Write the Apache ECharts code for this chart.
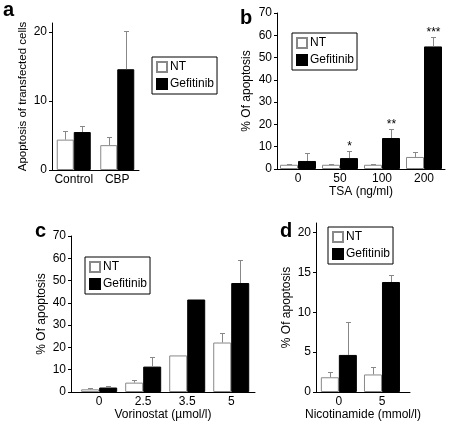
<!DOCTYPE html>
<html>
<head>
<meta charset="utf-8">
<script src="https://cdn.jsdelivr.net/npm/echarts@6/dist/echarts.min.js"></script>
<style>html,body{margin:0;padding:0;background:#fff}#chart{width:452px;height:424px}</style>
</head>
<body>
<div id="chart"></div>
<script>
// Panel a
const aCategories = ['Control', 'CBP'];
const aNT = [4.4, 3.6];
const aNTsd = [1.2, 1.15];
const aGef = [5.5, 14.6];
const aGefSd = [0.9, 5.5];
const aTicks = [0, 10, 20];
// Panel b
const bCategories = ['0', '50', '100', '200'];
const bNT = [1.9, 1.9, 1.9, 5.4];
const bNTsd = [0.4, 0.2, 0.4, 2.2];
const bGef = [3.6, 4.9, 13.9, 55.0];
const bGefSd = [3.6, 3.0, 4.0, 4.3];
const bStars = ['', '*', '**', '***'];
// Panel c
const cCategories = ['0', '2.5', '3.5', '5'];
const cNT = [1.2, 4.2, 16.4, 22.2];
const cNTsd = [0.6, 1.4, 0, 4.1];
const cGef = [2.0, 11.4, 41.5, 48.9];
const cGefSd = [0.6, 4.5, 0, 10.2];
// Panel d
const dCategories = ['0', '5'];
const dNT = [1.85, 2.2];
const dNTsd = [0.7, 0.95];
const dGef = [4.65, 13.8];
const dGefSd = [4.1, 0.85];
const dTicks = [0, 5, 10, 15, 20];

const FONT = 'Liberation Sans';
const GRAY = '#888';

function errData(vals, sds) { return vals.map((v, i) => [i, v, v + sds[i]]); }
function pairs(vals) { return vals.map((v, i) => [i, v]); }

function errorBars(side, barW, stars) {
  return function (params, api) {
    const i = api.value(0), v = api.value(1), t = api.value(2);
    const base = api.coord([i, v]);
    const top = api.coord([i, t]);
    const cx = Math.round(base[0] + side * barW / 2) + 0.5;
    const yt = Math.round(top[1]) + 0.5;
    const children = [];
    if (t > v) {
      children.push({ type: 'line', shape: { x1: cx, y1: base[1], x2: cx, y2: yt }, style: { stroke: GRAY, lineWidth: 1 } });
      children.push({ type: 'line', shape: { x1: cx - 2.5, y1: yt, x2: cx + 2.5, y2: yt }, style: { stroke: GRAY, lineWidth: 1 } });
    }
    if (stars && stars[params.dataIndex]) {
      children.push({ type: 'text', style: { text: stars[params.dataIndex], x: cx, y: yt - 5, align: 'center', verticalAlign: 'middle', font: '12px "' + FONT + '"', fill: '#000' } });
    }
    return { type: 'group', children: children };
  };
}

const labelStyle = { color: '#000', fontSize: 12, fontFamily: FONT };
const nameStyle = { color: '#000', fontSize: 12, fontFamily: FONT };

function xAx(idx, cats, name) {
  return {
    type: 'category', gridIndex: idx, data: cats,
    axisLine: { show: true, onZero: false, lineStyle: { color: '#000', width: 1 } }, axisTick: { show: false },
    axisLabel: Object.assign({ margin: 4, interval: 0 }, labelStyle),
    name: name, nameLocation: 'middle', nameGap: 16, nameTextStyle: nameStyle
  };
}
// value-type x axis whose labels show the group names at positions 0..n-1
function xAxVal(idx, cats, name, min, max) {
  return {
    type: 'value', gridIndex: idx, min: min, max: max,
    axisLine: { show: true, onZero: false, lineStyle: { color: '#000', width: 1 } },
    axisTick: { show: false }, splitLine: { show: false },
    axisLabel: Object.assign({ margin: 4, customValues: cats.map((c, i) => i), formatter: (v) => cats[Math.round(v)] }, labelStyle),
    name: name, nameLocation: 'middle', nameGap: 16, nameTextStyle: nameStyle
  };
}
function yAx(idx, max, interval, name, custom, nameGap, nameSize) {
  const ax = {
    type: 'value', gridIndex: idx, min: 0, max: max, interval: interval,
    axisLine: { show: true, onZero: false, lineStyle: { color: '#000', width: 1 } },
    axisTick: { show: true, length: 3, lineStyle: { color: '#000' } },
    axisLabel: Object.assign({ margin: 5 }, labelStyle),
    splitLine: { show: false },
    name: name, nameLocation: 'middle', nameGap: nameGap,
    nameTextStyle: Object.assign({}, nameStyle, { fontSize: nameSize || 12 })
  };
  if (custom) {
    ax.axisLabel.customValues = custom;
    ax.axisTick.customValues = custom;
  }
  return ax;
}

function bars(idx, ntVals, gefVals, w) {
  return [
    { name: 'NT', type: 'bar', xAxisIndex: idx, yAxisIndex: idx, data: ntVals, barWidth: w, barGap: '0%',
      itemStyle: { color: '#fff', borderColor: GRAY, borderWidth: 1 }, animation: false },
    { name: 'Gefitinib', type: 'bar', xAxisIndex: idx, yAxisIndex: idx, data: gefVals, barWidth: w, barGap: '0%',
      itemStyle: { color: '#000', borderColor: '#000', borderWidth: 1 }, animation: false }
  ];
}
function errs(idx, ntVals, ntSd, gefVals, gefSd, w, stars) {
  return [
    { type: 'custom', xAxisIndex: idx, yAxisIndex: idx, data: errData(ntVals, ntSd), renderItem: errorBars(-1, w, null), z: 5, animation: false, silent: true },
    { type: 'custom', xAxisIndex: idx, yAxisIndex: idx, data: errData(gefVals, gefSd), renderItem: errorBars(1, w, stars), z: 5, animation: false, silent: true }
  ];
}

function legend(left, top) {
  return {
    data: ['NT', 'Gefitinib'], orient: 'vertical', left: left, top: top,
    borderColor: '#000', borderWidth: 1, padding: [4, 3, 4, 4], itemGap: 5,
    itemWidth: 10, itemHeight: 10, icon: 'rect', selectedMode: false,
    textStyle: { color: '#000', fontSize: 12, fontFamily: FONT, padding: [0, 0, 0, -2] }
  };
}

const option = {
  backgroundColor: '#fff',
  textStyle: { fontFamily: FONT },
  animation: false,
  grid: [
    { left: 52, top: 23, width: 87, height: 147 },
    { left: 277, top: 13, width: 168, height: 156 },
    { left: 71, top: 236, width: 184, height: 156 },
    { left: 316, top: 223, width: 94, height: 169 }
  ],
  xAxis: [
    xAx(0, aCategories, ''),
    xAx(1, bCategories, 'TSA (ng/ml)'),
    xAxVal(2, cCategories, 'Vorinostat (\u00b5mol/l)', -0.64, 3.54),
    xAxVal(3, dCategories, 'Nicotinamide (mmol/l)', -0.53, 1.65)
  ],
  yAxis: [
    yAx(0, 21.3, 10, 'Apoptosis of transfected cells', aTicks, 23, 11.5),
    yAx(1, 70, 10, '% Of apoptosis', null, 24),
    yAx(2, 70, 10, '% Of apoptosis', null, 23),
    yAx(3, 21.2, 5, '% Of apoptosis', dTicks, 23)
  ],
  legend: [legend(152, 57), legend(292, 33), legend(85, 257), legend(328, 227)],
  graphic: [
    { type: 'text', style: { text: 'a', x: 3, y: 10, verticalAlign: 'middle', font: 'bold 20px "' + FONT + '"', fill: '#000' } },
    { type: 'text', style: { text: 'b', x: 240, y: 18, verticalAlign: 'middle', font: 'bold 20px "' + FONT + '"', fill: '#000' } },
    { type: 'text', style: { text: 'c', x: 35, y: 231, verticalAlign: 'middle', font: 'bold 20px "' + FONT + '"', fill: '#000' } },
    { type: 'text', style: { text: 'd', x: 280, y: 231, verticalAlign: 'middle', font: 'bold 20px "' + FONT + '"', fill: '#000' } }
  ],
  series: [].concat(
    bars(0, aNT, aGef, 17), errs(0, aNT, aNTsd, aGef, aGefSd, 17, null),
    bars(1, bNT, bGef, 18), errs(1, bNT, bNTsd, bGef, bGefSd, 18, bStars),
    bars(2, pairs(cNT), pairs(cGef), 18), errs(2, cNT, cNTsd, cGef, cGefSd, 18, null),
    bars(3, pairs(dNT), pairs(dGef), 18), errs(3, dNT, dNTsd, dGef, dGefSd, 18, null)
  )
};

const chart = echarts.init(document.getElementById('chart'), null, { renderer: 'canvas' });
chart.setOption(option);
</script>
</body>
</html>
